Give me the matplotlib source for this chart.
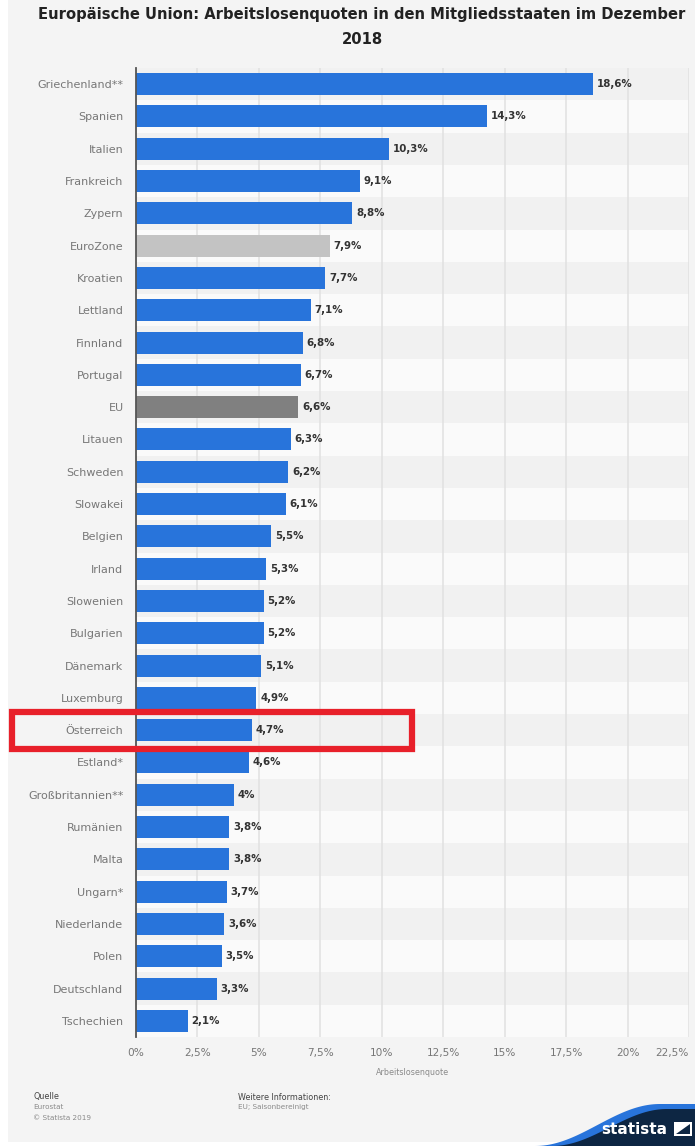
import numpy as np
import matplotlib.pyplot as plt
from matplotlib.patches import Rectangle, Polygon

laender = ['Griechenland**', 'Spanien', 'Italien', 'Frankreich', 'Zypern', 'EuroZone',
           'Kroatien', 'Lettland', 'Finnland', 'Portugal', 'EU', 'Litauen', 'Schweden',
           'Slowakei', 'Belgien', 'Irland', 'Slowenien', 'Bulgarien', 'Dänemark',
           'Luxemburg', 'Österreich', 'Estland*', 'Großbritannien**', 'Rumänien', 'Malta',
           'Ungarn*', 'Niederlande', 'Polen', 'Deutschland', 'Tschechien']
quoten = [18.6, 14.3, 10.3, 9.1, 8.8, 7.9, 7.7, 7.1, 6.8, 6.7, 6.6, 6.3, 6.2, 6.1, 5.5,
          5.3, 5.2, 5.2, 5.1, 4.9, 4.7, 4.6, 4.0, 3.8, 3.8, 3.7, 3.6, 3.5, 3.3, 2.1]
xticks = [0, 2.5, 5, 7.5, 10, 12.5, 15, 17.5, 20, 22.5]
xticklabels = ['0%', '2,5%', '5%', '7,5%', '10%', '12,5%', '15%', '17,5%', '20%', '22,5%']

blau = '#2874db'
farben = []
for l in laender:
    if l == 'EuroZone':
        farben.append('#c3c3c3')
    elif l == 'EU':
        farben.append('#808080')
    else:
        farben.append(blau)

W, H = 695, 1146
fig = plt.figure(figsize=(W / 100, H / 100), dpi=100)
fig.patch.set_facecolor('white')
fig.patches.append(Rectangle((8 / W, 4 / H), 1 - 8 / W, 1 - 4 / H, transform=fig.transFigure,
                             facecolor='#f4f4f4', edgecolor='none', zorder=-10))

ax = fig.add_axes([136 / W, 1 - 1037 / H, (689 - 136) / W, (1037 - 68) / H])
ax.set_facecolor('none')
y = np.arange(len(laender))

# Zeilenstreifen
for i in y:
    ax.axhspan(i - 0.5, i + 0.5, color='#fafafa' if i % 2 else '#f1f1f1', zorder=0, lw=0)

ax.barh(y, quoten, height=0.68, color=farben, zorder=3)
for i, v in enumerate(quoten):
    txt = ('%.1f' % v).replace('.', ',') if v != 4.0 else '4'
    ax.text(v + 0.15, i, txt + '%', va='center', ha='left', fontsize=7.4,
            fontweight='bold', color='#333333', zorder=4)

ax.set_ylim(len(laender) - 0.5, -0.5)
ax.set_xlim(0, 22.5)
ax.set_yticks(y)
ax.set_yticklabels(laender, fontsize=8, color='#777777')
ax.set_xticks(xticks)
ax.set_xticklabels(xticklabels, fontsize=7.6, color='#777777')
ax.get_xticklabels()[-1].set_horizontalalignment('right')
ax.tick_params(length=0, pad=9)
ax.tick_params(axis='x', pad=8)
for s in ['top', 'right', 'bottom']:
    ax.spines[s].set_visible(False)
ax.spines['left'].set_color('#555555')
ax.spines['left'].set_linewidth(1.3)
ax.spines['left'].set_zorder(5)
ax.grid(axis='x', color='#e2e2e2', linewidth=1.2, zorder=1)
ax.set_axisbelow(True)
ax.set_xlabel('Arbeitslosenquote', fontsize=5.8, color='#8a8a8a', labelpad=7)

fig.text(362 / W, 1 - 15 / H,
         'Europäische Union: Arbeitslosenquoten in den Mitgliedsstaaten im Dezember',
         ha='center', va='center', fontsize=10.6, fontweight='bold', color='#222222')
fig.text(362 / W, 1 - 40 / H, '2018', ha='center', va='center', fontsize=10.6,
         fontweight='bold', color='#222222')

# Markierung Österreich
fig.patches.append(Rectangle((12 / W, 1 - 749 / H), 400 / W, 37 / H, transform=fig.transFigure,
                             facecolor='none', edgecolor='#e8202a', linewidth=4.5, zorder=20))

# Fußzeile
fig.text(33 / W, 1 - 1097 / H, 'Quelle', fontsize=5.8, color='#444444', va='center')
fig.text(33 / W, 1 - 1107 / H, 'Eurostat', fontsize=5.2, color='#8a8a8a', va='center')
fig.text(33 / W, 1 - 1118 / H, '© Statista 2019', fontsize=5.2, color='#8a8a8a', va='center')
fig.text(238 / W, 1 - 1097 / H, 'Weitere Informationen:', fontsize=5.8, color='#444444', va='center')
fig.text(238 / W, 1 - 1107 / H, 'EU; Saisonbereinigt', fontsize=5.2, color='#8a8a8a', va='center')

# Statista-Logo
t = np.linspace(0, 1, 60)
kx = 535 + 125 * t
ky = 1146 - (1146 - 1104) * (0.5 - 0.5 * np.cos(np.pi * t))
rand = list(zip(kx / W, 1 - ky / H)) + [(1, 1 - 1104 / H), (1, 0)]
fig.patches.append(Polygon(rand, closed=True, transform=fig.transFigure,
                           facecolor='#2874db', edgecolor='none', zorder=15))
kx2 = 552 + 115 * t
ky2 = 1146 - (1146 - 1109) * (0.5 - 0.5 * np.cos(np.pi * t))
innen = list(zip(kx2 / W, 1 - ky2 / H)) + [(1, 1 - 1109 / H), (1, 0)]
fig.patches.append(Polygon(innen, closed=True, transform=fig.transFigure,
                           facecolor='#0d2643', edgecolor='none', zorder=16))
fig.text(601 / W, 1 - 1129 / H, 'statista', fontsize=11, fontweight='bold', color='white',
         va='center', ha='left', zorder=17)
fig.patches.append(Rectangle((674 / W, 1 - 1136 / H), 18 / W, 14 / H, transform=fig.transFigure,
                             facecolor='white', edgecolor='none', zorder=17))
fig.patches.append(Polygon([(676 / W, 1 - 1134 / H), (690 / W, 1 - 1124 / H), (690 / W, 1 - 1134 / H)],
                           closed=True, transform=fig.transFigure, facecolor='#0d2643',
                           edgecolor='none', zorder=18))

fig.savefig('out.png', dpi=100, facecolor=fig.get_facecolor())
